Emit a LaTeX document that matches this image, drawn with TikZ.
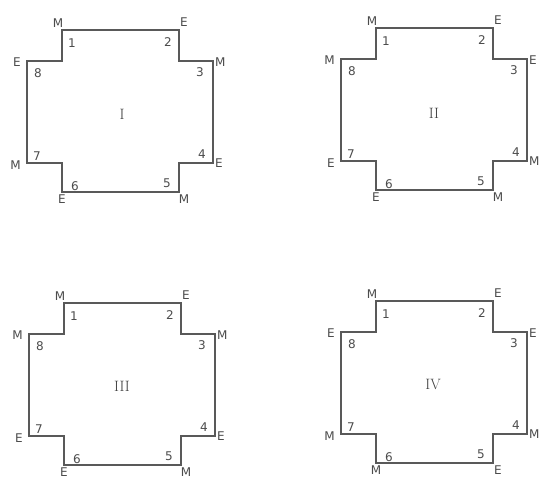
\documentclass[tikz,border=0pt]{standalone}
\usepackage{fontspec}
\setsansfont{DejaVu Sans}
\begin{document}
\begin{tikzpicture}[x=1pt,y=-1pt,
  outline/.style={draw=black!65,line width=1.2pt,line join=miter},
  lbl/.style={font=\sffamily\fontsize{12}{14}\selectfont,text=black!70,inner sep=0pt},
  num/.style={font=\sffamily\fontsize{12}{14}\selectfont,text=black!70,inner sep=0pt},
  roman/.style={font=\fontsize{15}{17}\selectfont,text=black!75,inner sep=0pt},
  pics/cross/.style args={#1/#2/#3/#4/#5/#6/#7/#8}{code={
    \draw[outline] (35,0) -- (152,0) -- (152,31) -- (186,31) -- (186,133) -- (152,133)
      -- (152,162) -- (35,162) -- (35,133) -- (0,133) -- (0,31) -- (35,31) -- cycle;
    \node[lbl] (-l1) at (31,-7) {#1};
    \node[lbl] (-l2) at (157,-8) {#2};
    \node[lbl,anchor=west] (-l3) at (188,32) {#3};
    \node[lbl,anchor=west] (-l4) at (188,133) {#4};
    \node[lbl] (-l5) at (157,169) {#5};
    \node[lbl] (-l6) at (35,169) {#6};
    \node[lbl,anchor=east] (-l7) at (-6,135) {#7};
    \node[lbl,anchor=east] (-l8) at (-6,32) {#8};
    \node[num] (-n1) at (45,13) {1};
    \node[num] (-n2) at (141,12) {2};
    \node[num] (-n3) at (173,42) {3};
    \node[num] (-n4) at (175,124) {4};
    \node[num] (-n5) at (140,153) {5};
    \node[num] (-n6) at (48,156) {6};
    \node[num] (-n7) at (10,126) {7};
    \node[num] (-n8) at (11,43) {8};
  }}]
\useasboundingbox (0,0) rectangle (540,478);
\fill[white] (0,0) rectangle (540,478);
\pic (A) at (27,30) {cross=M/E/M/E/M/E/M/E};
\node[roman] (rA) at (122,114) {I};
\pic (B) at (341,28) {cross=M/E/E/M/M/E/E/M};
\node[roman] (rB) at (434,113) {II};
\pic (C) at (29,303) {cross=M/E/M/E/M/E/E/M};
\node[roman] (rC) at (122,386) {III};
\pic (D) at (341,301) {cross=M/E/E/M/E/M/M/E};
\node[roman] (rD) at (433,384) {IV};
\end{tikzpicture}
\end{document}
